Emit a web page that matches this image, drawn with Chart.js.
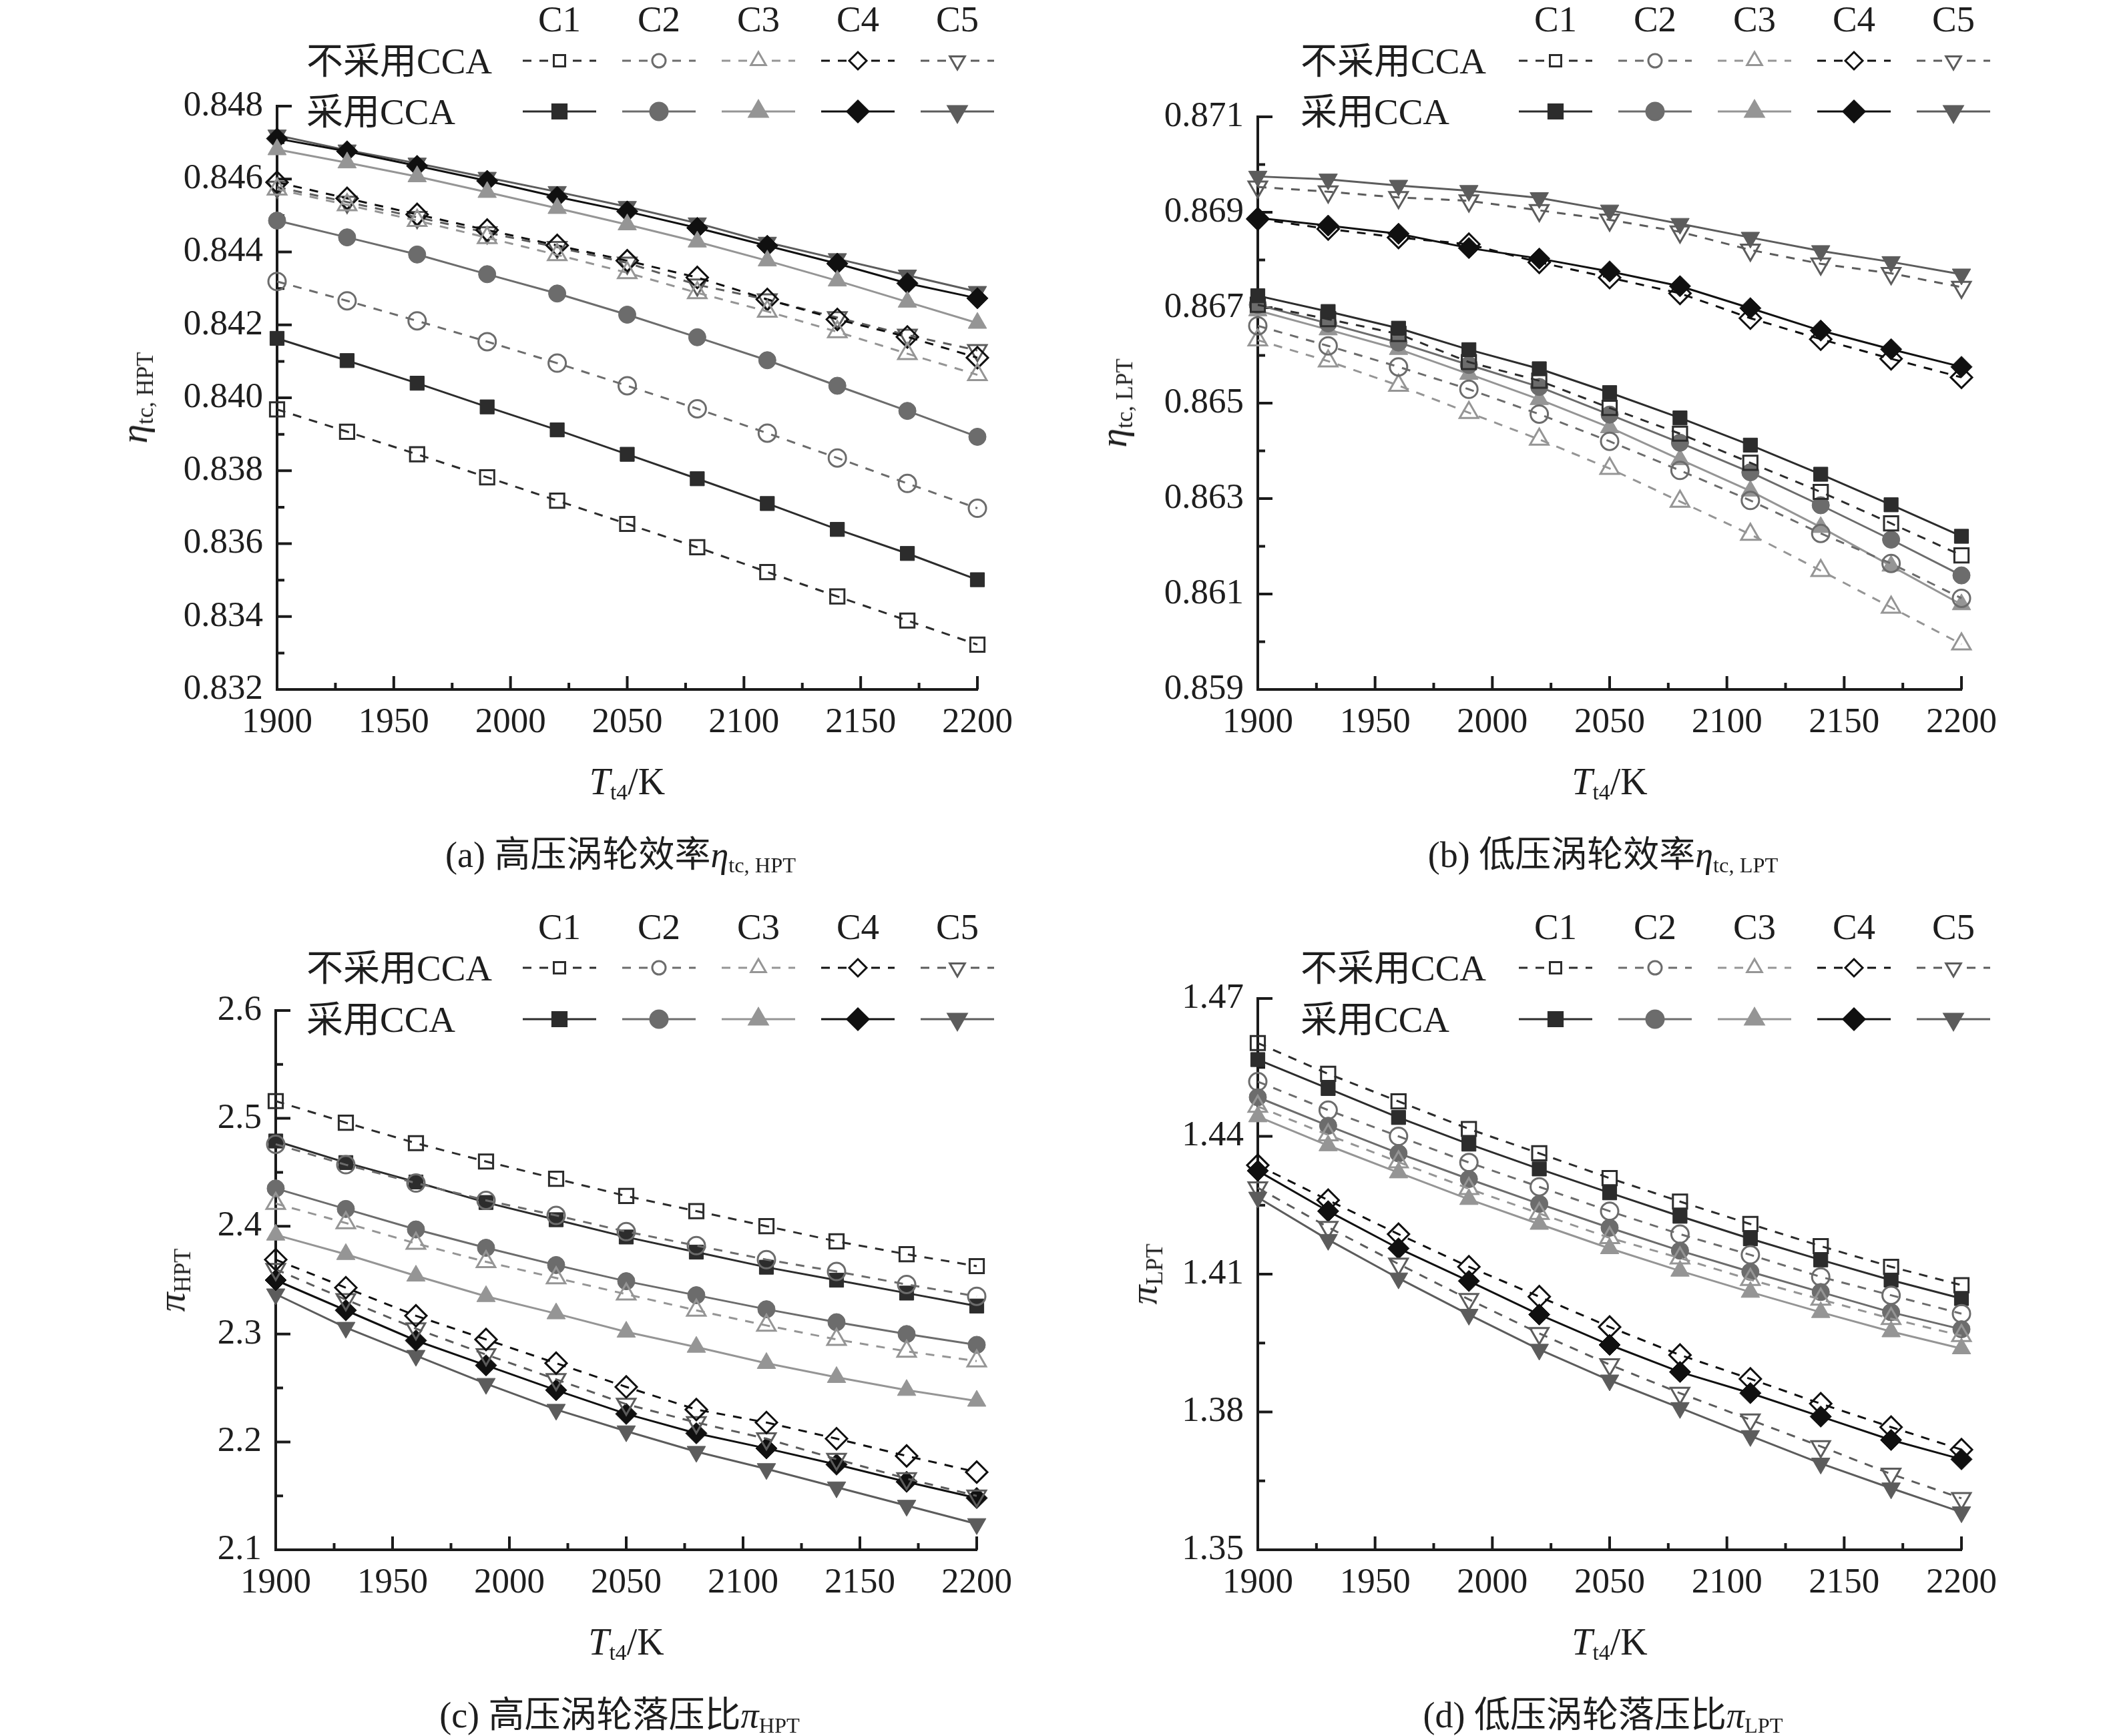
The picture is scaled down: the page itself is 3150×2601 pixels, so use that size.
<!DOCTYPE html>
<html>
<head>
<meta charset="utf-8">
<script src="https://cdn.jsdelivr.net/npm/chart.js@4.4.0/dist/chart.umd.min.js"></script>
<style>
  body { margin: 0; background: #fff; }
  #wrap { position: relative; width: 3150px; height: 2601px; overflow: hidden; background: #fff;
          font-family: "Liberation Serif", "Noto Sans CJK SC", serif; color: #1e1e1e; }
  .panel { position: absolute; width: 1575px; }
  .panel canvas { position: absolute; left: 0; top: 0; }
  .t { position: absolute; white-space: nowrap; line-height: 1; font-size: 55px; }
  .c { transform: translate(-50%, -50%); }
  .l { transform: translateY(-50%); }
  .rot { transform: translate(-50%, -50%) rotate(-90deg); }
  .t i { font-style: italic; }
  .t sub { font-size: 0.6em; vertical-align: -0.25em; line-height: 0; }
</style>
</head>
<body>
<div id="wrap"></div>
<script>
// turbine inlet temperature, K
const temps = [1900, 1930, 1960, 1990, 2020, 2050, 2080, 2110, 2140, 2170, 2200];
const caseLabels = ["C1", "C2", "C3", "C4", "C5"];
const xTicks = [1900, 1950, 2000, 2050, 2100, 2150, 2200];

// (a) HPT efficiency, rows C1..C5
const etaHptWithout = [
  [0.83968, 0.83907, 0.83845, 0.83782, 0.83718, 0.83654, 0.83590, 0.83522, 0.83455, 0.83389, 0.83323],
  [0.84319, 0.84266, 0.84211, 0.84154, 0.84095, 0.84033, 0.83970, 0.83903, 0.83835, 0.83765, 0.83697],
  [0.84572, 0.84529, 0.84486, 0.84439, 0.84392, 0.84343, 0.84288, 0.84237, 0.84181, 0.84121, 0.84063],
  [0.84591, 0.84547, 0.84503, 0.84460, 0.84418, 0.84376, 0.84330, 0.84270, 0.84215, 0.84167, 0.84110],
  [0.84578, 0.84537, 0.84495, 0.84453, 0.84413, 0.84370, 0.84310, 0.84269, 0.84220, 0.84172, 0.84130]
];
const etaHptWith = [
  [0.84163, 0.84102, 0.84040, 0.83975, 0.83912, 0.83845, 0.83778, 0.83710, 0.83639, 0.83573, 0.83501],
  [0.84486, 0.84440, 0.84393, 0.84339, 0.84286, 0.84228, 0.84166, 0.84103, 0.84033, 0.83964, 0.83893],
  [0.84681, 0.84645, 0.84607, 0.84564, 0.84520, 0.84475, 0.84428, 0.84376, 0.84321, 0.84263, 0.84205],
  [0.84711, 0.84676, 0.84636, 0.84595, 0.84551, 0.84511, 0.84466, 0.84417, 0.84368, 0.84314, 0.84273],
  [0.84720, 0.84679, 0.84643, 0.84604, 0.84565, 0.84524, 0.84479, 0.84426, 0.84381, 0.84336, 0.84291]
];
const etaHptTicks = [0.832, 0.834, 0.836, 0.838, 0.840, 0.842, 0.844, 0.846, 0.848];

// (b) LPT efficiency
const etaLptWithout = [
  [0.86706, 0.86676, 0.86645, 0.86586, 0.86547, 0.86490, 0.86436, 0.86375, 0.86314, 0.86248, 0.86181],
  [0.86662, 0.86620, 0.86576, 0.86529, 0.86477, 0.86420, 0.86359, 0.86296, 0.86227, 0.86164, 0.86091],
  [0.86632, 0.86588, 0.86537, 0.86480, 0.86424, 0.86363, 0.86294, 0.86225, 0.86149, 0.86072, 0.85995],
  [0.86886, 0.86865, 0.86847, 0.86833, 0.86795, 0.86763, 0.86730, 0.86678, 0.86634, 0.86593, 0.86554],
  [0.86953, 0.86943, 0.86931, 0.86924, 0.86904, 0.86884, 0.86859, 0.86821, 0.86792, 0.86772, 0.86743]
];
const etaLptWith = [
  [0.86725, 0.86692, 0.86657, 0.86612, 0.86572, 0.86522, 0.86469, 0.86412, 0.86351, 0.86287, 0.86221],
  [0.86706, 0.86667, 0.86627, 0.86580, 0.86534, 0.86476, 0.86417, 0.86355, 0.86286, 0.86214, 0.86139],
  [0.86694, 0.86654, 0.86613, 0.86561, 0.86508, 0.86449, 0.86382, 0.86316, 0.86240, 0.86159, 0.86078],
  [0.86888, 0.86872, 0.86855, 0.86825, 0.86803, 0.86776, 0.86745, 0.86699, 0.86652, 0.86613, 0.86576],
  [0.86975, 0.86969, 0.86956, 0.86945, 0.86930, 0.86904, 0.86876, 0.86847, 0.86819, 0.86796, 0.86770]
];
const etaLptTicks = [0.859, 0.861, 0.863, 0.865, 0.867, 0.869, 0.871];

// (c) HPT pressure ratio
const piHptWithout = [
  [2.516, 2.496, 2.477, 2.460, 2.444, 2.428, 2.414, 2.400, 2.386, 2.374, 2.363],
  [2.476, 2.457, 2.440, 2.424, 2.410, 2.395, 2.382, 2.369, 2.358, 2.346, 2.335],
  [2.421, 2.403, 2.384, 2.367, 2.352, 2.337, 2.322, 2.308, 2.295, 2.284, 2.275],
  [2.369, 2.343, 2.317, 2.295, 2.273, 2.251, 2.230, 2.218, 2.203, 2.187, 2.172],
  [2.360, 2.332, 2.305, 2.281, 2.258, 2.235, 2.218, 2.203, 2.184, 2.166, 2.150]
];
const piHptWith = [
  [2.479, 2.459, 2.441, 2.422, 2.406, 2.390, 2.376, 2.362, 2.350, 2.338, 2.326],
  [2.435, 2.416, 2.397, 2.380, 2.364, 2.349, 2.336, 2.323, 2.311, 2.300, 2.290],
  [2.392, 2.374, 2.354, 2.335, 2.319, 2.302, 2.288, 2.273, 2.260, 2.248, 2.238],
  [2.350, 2.322, 2.294, 2.271, 2.248, 2.226, 2.208, 2.194, 2.179, 2.163, 2.148],
  [2.337, 2.306, 2.280, 2.254, 2.230, 2.210, 2.191, 2.175, 2.158, 2.141, 2.124]
];
const piHptTicks = [2.1, 2.2, 2.3, 2.4, 2.5, 2.6];

// (d) LPT pressure ratio
const piLptWithout = [
  [1.4603, 1.4536, 1.4476, 1.4416, 1.4363, 1.4309, 1.4258, 1.4209, 1.4161, 1.4116, 1.4076],
  [1.4519, 1.4457, 1.4400, 1.4343, 1.4290, 1.4237, 1.4187, 1.4142, 1.4094, 1.4054, 1.4014],
  [1.4465, 1.4403, 1.4344, 1.4286, 1.4232, 1.4179, 1.4135, 1.4088, 1.4045, 1.4003, 1.3966],
  [1.4337, 1.4261, 1.4187, 1.4116, 1.4051, 1.3985, 1.3924, 1.3872, 1.3818, 1.3767, 1.3718],
  [1.4288, 1.4202, 1.4122, 1.4045, 1.3971, 1.3903, 1.3841, 1.3783, 1.3725, 1.3665, 1.3612]
];
const piLptWith = [
  [1.4567, 1.4504, 1.4441, 1.4383, 1.4329, 1.4277, 1.4226, 1.4177, 1.4131, 1.4087, 1.4047],
  [1.4485, 1.4423, 1.4363, 1.4307, 1.4253, 1.4201, 1.4151, 1.4105, 1.4061, 1.4017, 1.3980],
  [1.4443, 1.4380, 1.4321, 1.4263, 1.4209, 1.4156, 1.4107, 1.4061, 1.4017, 1.3975, 1.3938],
  [1.4325, 1.4237, 1.4156, 1.4085, 1.4012, 1.3946, 1.3887, 1.3841, 1.3790, 1.3739, 1.3697],
  [1.4267, 1.4175, 1.4091, 1.4012, 1.3936, 1.3869, 1.3809, 1.3748, 1.3688, 1.3634, 1.3582]
];
const piLptTicks = [1.35, 1.38, 1.41, 1.44, 1.47];

// look of the five cases
const lineColors = ["#2c2c2c", "#6c6c6c", "#959595", "#101010", "#5c5c5c"];
const pointStyles = ["rect", "circle", "triangle", "rectRot", "triangle"];
const pointRotations = [0, 0, 0, 0, 180];
const pointRadii = [15, 13, 16, 16, 16];

const panels = [
  { left: 0, top: 0, h: 1300, area: { left: 415, right: 1464, top: 159, bottom: 1033 },
    without: etaHptWithout, withCca: etaHptWith, yTicks: etaHptTicks, digits: 3,
    legendX: 838, textX: 459, rows: [28, 91, 167],
    yTitle: '<i>η</i><sub>tc, HPT</sub>', yTitleX: 201,
    caption: '(a) 高压涡轮效率<i>η</i><sub>tc, HPT</sub>' },
  { left: 1575, top: 0, h: 1300, area: { left: 309, right: 1363, top: 175, bottom: 1033 },
    without: etaLptWithout, withCca: etaLptWith, yTicks: etaLptTicks, digits: 3,
    legendX: 755, textX: 373, rows: [28, 91, 167],
    yTitle: '<i>η</i><sub>tc, LPT</sub>', yTitleX: 93,
    caption: '(b) 低压涡轮效率<i>η</i><sub>tc, LPT</sub>' },
  { left: 0, top: 1300, h: 1301, area: { left: 413, right: 1463, top: 214, bottom: 1022 },
    without: piHptWithout, withCca: piHptWith, yTicks: piHptTicks, digits: 1,
    legendX: 838, textX: 459, rows: [88, 150, 227],
    yTitle: '<i>π</i><sub>HPT</sub>', yTitleX: 257,
    caption: '(c) 高压涡轮落压比<i>π</i><sub>HPT</sub>' },
  { left: 1575, top: 1300, h: 1301, area: { left: 309, right: 1363, top: 196, bottom: 1022 },
    without: piLptWithout, withCca: piLptWith, yTicks: piLptTicks, digits: 2,
    legendX: 755, textX: 373, rows: [88, 150, 227],
    yTitle: '<i>π</i><sub>LPT</sub>', yTitleX: 138,
    caption: '(d) 低压涡轮落压比<i>π</i><sub>LPT</sub>' }
];

function markerOpts(i, r) {
  return { pointStyle: pointStyles[i], rotation: pointRotations[i], radius: r || pointRadii[i], borderWidth: 3 };
}

// inward tick marks + legend samples, drawn on the chart canvas
const axisMarks = {
  id: "axisMarks",
  beforeDatasetsDraw(chart, args, opts) {
    const { ctx, chartArea: a, scales: { x, y } } = chart;
    ctx.save();
    ctx.strokeStyle = "#1a1a1a";
    ctx.lineWidth = 4;
    ctx.beginPath();
    for (let k = 0; k < xTicks.length; k++) {
      const px = x.getPixelForValue(xTicks[k]);
      ctx.moveTo(px, a.bottom); ctx.lineTo(px, a.bottom - 20);
      if (k < xTicks.length - 1) {
        const pm = x.getPixelForValue((xTicks[k] + xTicks[k + 1]) / 2);
        ctx.moveTo(pm, a.bottom); ctx.lineTo(pm, a.bottom - 10);
      }
    }
    const yt = opts.yTicks;
    for (let k = 0; k < yt.length; k++) {
      const py = y.getPixelForValue(yt[k]);
      ctx.moveTo(a.left, py); ctx.lineTo(a.left + 22, py);
      if (k < yt.length - 1) {
        const pm = y.getPixelForValue((yt[k] + yt[k + 1]) / 2);
        ctx.moveTo(a.left, pm); ctx.lineTo(a.left + 11, pm);
      }
    }
    ctx.stroke();
    ctx.restore();
  },
  afterDraw(chart, args, opts) {
    const ctx = chart.ctx;
    ctx.save();
    for (let i = 0; i < 5; i++) {
      const cx = opts.legendX + i * 149;
      for (let row = 0; row < 2; row++) {
        const cy = opts.rows[row + 1];
        const filled = row === 1;
        ctx.strokeStyle = lineColors[i];
        ctx.lineWidth = 3;
        ctx.setLineDash(filled ? [] : [13, 12]);
        ctx.beginPath();
        ctx.moveTo(cx - 55, cy); ctx.lineTo(cx + 55, cy);
        ctx.stroke();
        ctx.setLineDash([]);
        ctx.fillStyle = filled ? lineColors[i] : "#ffffff";
        Chart.helpers.drawPoint(ctx, markerOpts(i, filled ? null : pointRadii[i] - 3), cx, cy);
      }
    }
    ctx.restore();
  }
};

function buildDatasets(p) {
  const sets = [];
  for (let i = 0; i < 5; i++) {
    sets.push({
      label: caseLabels[i] + " 不采用CCA",
      data: temps.map((t, k) => ({ x: t, y: p.without[i][k] })),
      borderColor: lineColors[i], borderWidth: 3, borderDash: [13, 12],
      pointStyle: pointStyles[i], pointRotation: pointRotations[i], pointRadius: pointRadii[i],
      pointBorderWidth: 3, pointBorderColor: lineColors[i], pointBackgroundColor: "rgba(255,255,255,0)",
      tension: 0, fill: false, clip: false
    });
  }
  for (let i = 0; i < 5; i++) {
    sets.push({
      label: caseLabels[i] + " 采用CCA",
      data: temps.map((t, k) => ({ x: t, y: p.withCca[i][k] })),
      borderColor: lineColors[i], borderWidth: 3,
      pointStyle: pointStyles[i], pointRotation: pointRotations[i], pointRadius: pointRadii[i],
      pointBorderWidth: 1, pointBorderColor: lineColors[i], pointBackgroundColor: lineColors[i],
      tension: 0, fill: false, clip: false
    });
  }
  return sets;
}

const wrap = document.getElementById("wrap");

function addText(parent, html, x, y, cls, size) {
  const d = document.createElement("div");
  d.className = "t " + cls;
  d.style.left = x + "px";
  d.style.top = y + "px";
  if (size) d.style.fontSize = size + "px";
  d.innerHTML = html;
  parent.appendChild(d);
}

panels.forEach(p => {
  const div = document.createElement("div");
  div.className = "panel";
  div.style.left = p.left + "px";
  div.style.top = p.top + "px";
  div.style.height = p.h + "px";
  const cv = document.createElement("canvas");
  cv.width = 1575; cv.height = p.h;
  cv.style.width = "1575px"; cv.style.height = p.h + "px";
  div.appendChild(cv);
  wrap.appendChild(div);

  const a = p.area;
  const tickFont = { family: "Liberation Serif", size: 53, lineHeight: 1 };
  new Chart(cv, {
    type: "line",
    data: { datasets: buildDatasets(p) },
    options: {
      responsive: false,
      animation: false,
      devicePixelRatio: 1,
      layout: { padding: { left: 0, top: a.top, right: 1575 - a.right, bottom: 0 } },
      plugins: {
        legend: { display: false },
        tooltip: { enabled: false },
        axisMarks: { yTicks: p.yTicks, legendX: p.legendX, rows: p.rows }
      },
      scales: {
        x: {
          type: "linear", min: 1900, max: 2200,
          afterFit: s => { s.height = p.h - a.bottom; },
          afterBuildTicks: s => { s.ticks = xTicks.map(v => ({ value: v })); },
          grid: { display: true, drawOnChartArea: false, drawTicks: false },
          border: { display: true, width: 4, color: "#1a1a1a" },
          ticks: { font: tickFont, color: "#1e1e1e", padding: 24, maxRotation: 0, autoSkip: false,
                   callback: v => String(Math.round(v)) }
        },
        y: {
          type: "linear", min: p.yTicks[0], max: p.yTicks[p.yTicks.length - 1],
          afterFit: s => { s.width = a.left; },
          afterBuildTicks: s => { s.ticks = p.yTicks.map(v => ({ value: v })); },
          grid: { display: true, drawOnChartArea: false, drawTicks: false },
          border: { display: true, width: 4, color: "#1a1a1a" },
          ticks: { font: tickFont, color: "#1e1e1e", padding: 21, autoSkip: false,
                   callback: v => Number(v).toFixed(p.digits) }
        }
      }
    },
    plugins: [axisMarks]
  });

  // legend labels
  caseLabels.forEach((c, i) => addText(div, c, p.legendX + i * 149, p.rows[0], "c"));
  addText(div, "不采用CCA", p.textX, p.rows[1], "l");
  addText(div, "采用CCA", p.textX, p.rows[2], "l");
  // axis titles and caption
  addText(div, p.yTitle, p.yTitleX, (a.top + a.bottom) / 2, "rot", 58);
  const midX = (a.left + a.right) / 2;
  addText(div, '<i>T</i><sub>t4</sub>/K', midX, a.bottom + 138, "c", 56);
  addText(div, p.caption, midX - 10, a.bottom + 248, "c", 54);
});
</script>
</body>
</html>
